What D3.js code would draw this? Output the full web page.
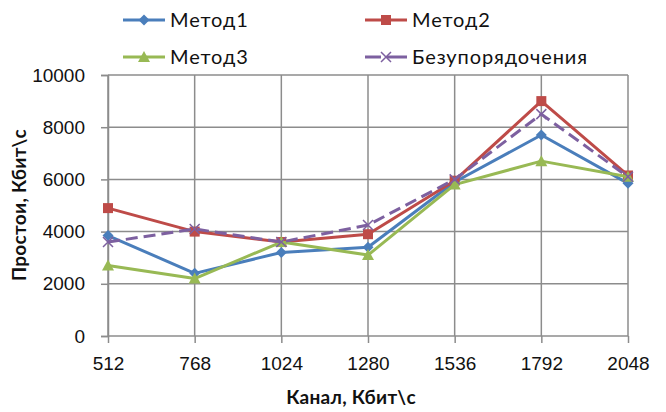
<!DOCTYPE html>
<html>
<head>
<meta charset="utf-8">
<script src="https://cdn.jsdelivr.net/npm/d3@7/dist/d3.min.js"></script>
<style>
  html, body { margin: 0; padding: 0; background: #fff; }
  svg { display: block; font-family: Lato, "Open Sans", sans-serif; }
</style>
</head>
<body>
<svg id="chart" width="666" height="412"></svg>
<script>
// Channel bandwidth categories (Kbit/s)
const channels = [512, 768, 1024, 1280, 1536, 1792, 2048];

// Idle time per method (Kbit/s)
const method1 = [3850, 2400, 3200, 3400, 5900, 7700, 5850];
const method2 = [4900, 4000, 3600, 3900, 5950, 9000, 6150];
const method3 = [2700, 2200, 3600, 3100, 5800, 6700, 6100];
const noOrdering = [3600, 4100, 3600, 4250, 6000, 8500, 6100];

const seriesNames = ["Метод1", "Метод2", "Метод3", "Безупорядочения"];
const yTicks = [0, 2000, 4000, 6000, 8000, 10000];

const series = [
  { name: seriesNames[0], values: method1, color: "#4A7EBB", marker: "diamond", dash: null },
  { name: seriesNames[1], values: method2, color: "#BE4B48", marker: "square", dash: null },
  { name: seriesNames[2], values: method3, color: "#98B954", marker: "triangle", dash: null },
  { name: seriesNames[3], values: noOrdering, color: "#7D60A0", marker: "cross", dash: "12,6" }
];

const svg = d3.select("#chart");
const margin = { left: 108, right: 38, top: 75, bottom: 76 };
const W = 666, H = 412;

const x = d3.scalePoint().domain(channels).range([margin.left, W - margin.right]);
const y = d3.scaleLinear().domain([0, 10000]).range([H - margin.bottom, margin.top]);

const gridColor = "#8C8C8C";

// Value axis with tick marks on the left
const yAxis = svg.append("g")
  .attr("transform", `translate(${margin.left},0)`)
  .call(d3.axisLeft(y).tickValues(yTicks).tickSize(7).tickPadding(16).tickFormat(d3.format("d")));
yAxis.select(".domain").attr("stroke", gridColor).attr("stroke-width", 1.5);
yAxis.selectAll(".tick line").attr("stroke", gridColor).attr("stroke-width", 1.5);
yAxis.selectAll(".tick text").attr("font-size", 19).attr("fill", "#111");

// Horizontal gridlines
svg.append("g").selectAll("line").data(yTicks).join("line")
  .attr("x1", margin.left).attr("x2", W - margin.right)
  .attr("y1", d => y(d)).attr("y2", d => y(d))
  .attr("stroke", gridColor).attr("stroke-width", 1.5);

// Vertical gridlines at each category
svg.append("g").selectAll("line").data(channels).join("line")
  .attr("x1", d => x(d)).attr("x2", d => x(d))
  .attr("y1", margin.top).attr("y2", H - margin.bottom)
  .attr("stroke", gridColor).attr("stroke-width", 1.5);

const xAxis = svg.append("g")
  .attr("transform", `translate(0,${H - margin.bottom})`)
  .call(d3.axisBottom(x).tickSize(7).tickPadding(14));
xAxis.select(".domain").remove();
xAxis.selectAll(".tick line").attr("stroke", gridColor).attr("stroke-width", 1.5);
xAxis.selectAll(".tick text").attr("font-size", 19).attr("fill", "#111");

// Axis titles
svg.append("text")
  .attr("x", (margin.left + W - margin.right) / 2 - 17).attr("y", 404)
  .attr("text-anchor", "middle").attr("font-size", 19).attr("font-weight", "bold")
  .attr("letter-spacing", 0.3)
  .attr("fill", "#111").text("Канал, Кбит\\с");

svg.append("text")
  .attr("transform", "translate(26,205) rotate(-90)")
  .attr("text-anchor", "middle").attr("font-size", 19).attr("font-weight", "bold")
  .attr("letter-spacing", 0.3)
  .attr("fill", "#111").text("Простои, Кбит\\с");

// Marker drawing
function drawMarker(g, type, color) {
  if (type === "diamond") {
    g.append("path").attr("d", "M0,-5.5L5.5,0L0,5.5L-5.5,0Z").attr("fill", color);
  } else if (type === "square") {
    g.append("rect").attr("x", -5).attr("y", -5).attr("width", 10).attr("height", 10).attr("fill", color);
  } else if (type === "triangle") {
    g.append("path").attr("d", "M0,-6L6,5L-6,5Z").attr("fill", color);
  } else if (type === "cross") {
    g.append("path").attr("d", "M-5,-5L5,5M-5,5L5,-5").attr("stroke", color).attr("stroke-width", 1.5).attr("fill", "none");
  }
}

const line = d3.line().x((d, i) => x(channels[i])).y(d => y(d));

series.forEach(s => {
  const g = svg.append("g");
  g.append("path").datum(s.values)
    .attr("d", line)
    .attr("fill", "none")
    .attr("stroke", s.color)
    .attr("stroke-width", 3)
    .attr("stroke-linejoin", "round")
    .attr("stroke-dasharray", s.dash);
  s.values.forEach((v, i) => {
    const m = g.append("g").attr("transform", `translate(${x(channels[i])},${y(v)})`);
    drawMarker(m, s.marker, s.color);
  });
});

// Legend: two columns, two rows
const legendPos = [
  { lx: 123, ly: 20 }, { lx: 365, ly: 20 },
  { lx: 123, ly: 57 }, { lx: 365, ly: 57 }
];
series.forEach((s, i) => {
  const p = legendPos[i];
  const g = svg.append("g").attr("transform", `translate(${p.lx},${p.ly})`);
  g.append("line").attr("x1", 0).attr("x2", 42).attr("y1", 0).attr("y2", 0)
    .attr("stroke", s.color).attr("stroke-width", 3)
    .attr("stroke-dasharray", s.dash ? "16,6,20" : null);
  const m = g.append("g").attr("transform", "translate(21,0)");
  drawMarker(m, s.marker, s.color);
  g.append("text").attr("x", 47).attr("y", 0).attr("dy", "0.35em")
    .attr("font-size", 20).attr("letter-spacing", 0.9)
    .attr("fill", "#111").text(s.name);
});
</script>
</body>
</html>
